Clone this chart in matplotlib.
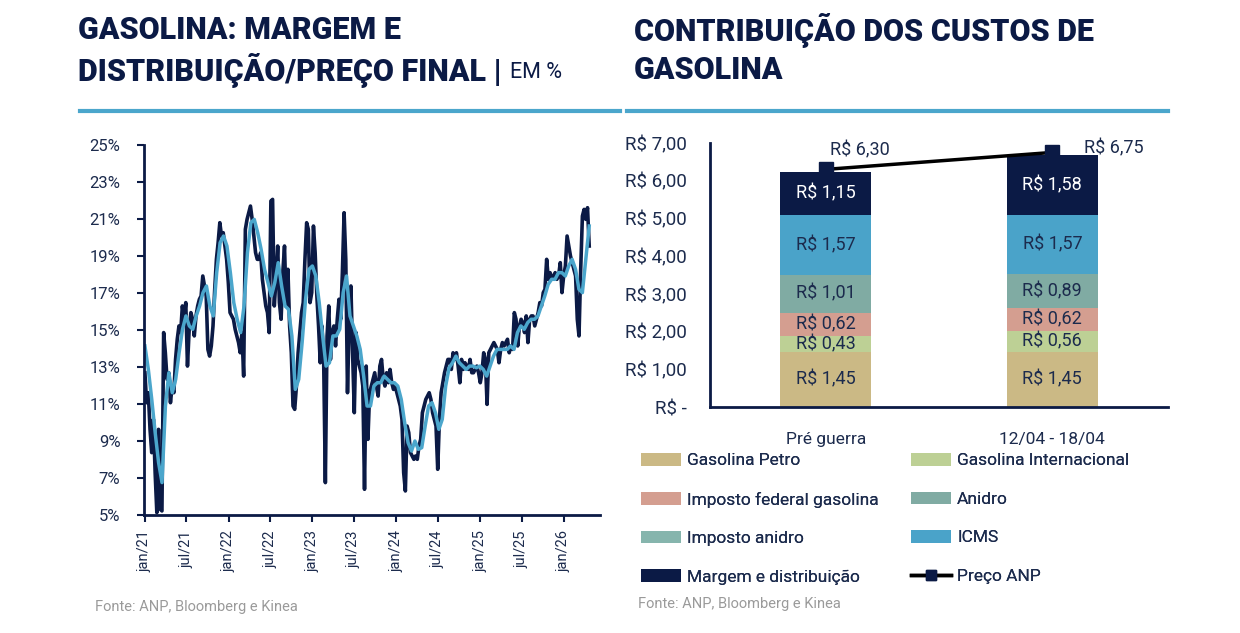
import numpy as np
import pandas as pd
import matplotlib
matplotlib.use("Agg")
import matplotlib.pyplot as plt
from matplotlib.patches import Patch
from matplotlib.lines import Line2D

plt.rcParams['font.family'] = ['Roboto', 'DejaVu Sans']

NAVY = '#0b1a45'
LIGHT = '#4ba6cc'
TXT = '#1c2b4d'

# ---- dados: margem e distribuição / preço final (semanal, %) ----
margem_semanal = [
    12.69, 11.07, 11.61, 9.63, 8.37, 10.17, 7.29, 5.13, 9.63, 5.31, 5.22, 14.86,
    13.77, 12.33, 12.69, 11.07, 11.97, 11.61, 13.41, 14.50, 15.22, 14.86, 16.30, 15.58,
    16.48, 13.05, 15.04, 15.94, 15.58, 14.68, 15.76, 16.30, 16.66, 16.84, 17.92, 17.38,
    16.84, 13.95, 13.59, 14.14, 15.22, 17.20, 18.82, 19.72, 20.80, 20.08, 20.26, 19.54,
    18.82, 17.56, 15.94, 15.76, 15.58, 15.04, 14.68, 14.32, 13.77, 14.86, 12.51, 20.44,
    20.98, 21.34, 21.70, 20.98, 20.08, 19.18, 18.82, 18.82, 19.18, 17.74, 17.02, 16.30,
    15.94, 14.86, 21.97, 22.06, 16.30, 17.74, 19.54, 16.48, 15.58, 18.10, 19.54, 16.30,
    18.28, 15.22, 13.77, 10.89, 10.71, 11.97, 13.77, 14.86, 15.94, 16.48, 18.82, 20.80,
    20.44, 16.48, 17.02, 20.62, 19.18, 16.84, 15.22, 13.23, 15.22, 13.41, 6.75, 14.68,
    16.30, 13.41, 14.86, 15.22, 14.14, 15.58, 16.66, 15.58, 18.10, 21.34, 18.82, 11.61,
    15.40, 17.38, 13.77, 10.53, 14.86, 13.41, 13.05, 12.69, 11.97, 6.39, 13.05, 9.09,
    11.61, 11.97, 12.33, 12.69, 11.97, 11.43, 13.05, 13.41, 12.33, 11.97, 12.69, 12.15,
    12.87, 12.15, 11.79, 11.97, 11.61, 11.25, 10.89, 10.17, 7.29, 6.30, 9.81, 9.45,
    8.37, 8.19, 8.01, 8.19, 8.01, 8.73, 9.09, 10.53, 10.89, 11.25, 11.43, 11.61,
    11.25, 10.53, 10.17, 9.81, 7.47, 10.17, 11.61, 12.15, 12.69, 13.05, 13.41, 13.41,
    12.87, 13.77, 13.41, 13.77, 13.05, 12.15, 13.41, 12.87, 13.23, 13.05, 12.87, 13.41,
    12.69, 12.69, 12.87, 13.05, 12.69, 12.15, 12.69, 13.77, 13.41, 10.98, 13.77, 13.95,
    14.14, 14.32, 14.14, 13.95, 13.23, 13.95, 14.32, 14.14, 14.32, 14.50, 13.77, 14.14,
    13.95, 15.94, 15.58, 14.14, 15.22, 15.58, 15.40, 14.86, 15.76, 14.32, 15.58, 15.76,
    15.76, 15.22, 15.58, 15.94, 16.48, 16.30, 17.02, 17.20, 18.82, 17.74, 18.10, 17.74,
    17.92, 18.10, 17.74, 17.92, 18.64, 17.02, 17.92, 18.46, 20.08, 19.54, 19.00, 18.64,
    18.28, 17.92, 15.58, 14.68, 18.28, 21.16, 21.52, 20.98, 21.61, 19.54,
]
margem_media = [
    14.14, 12.87, 11.25, 9.45, 7.83, 6.75, 10.89, 12.69, 11.61, 12.33, 13.77, 15.04,
    15.76, 15.22, 15.04, 15.76, 16.30, 17.02, 17.38, 16.30, 15.76, 18.10, 19.72, 20.08,
    19.54, 18.10, 16.48, 15.58, 14.86, 16.30, 19.18, 20.80, 20.98, 20.26, 19.36, 18.28,
    17.56, 16.84, 17.56, 18.64, 17.38, 16.30, 16.12, 14.68, 11.79, 12.33, 14.32, 16.66,
    18.28, 18.46, 17.92, 16.48, 14.68, 13.05, 13.23, 14.68, 14.68, 15.04, 17.02, 17.92,
    15.76, 15.22, 14.68, 13.95, 12.51, 10.89, 10.89, 11.97, 12.15, 12.15, 12.51, 12.33,
    12.15, 12.15, 11.97, 11.25, 9.99, 8.91, 8.46, 9.00, 8.55, 8.64, 9.81, 10.89,
    11.07, 10.53, 9.63, 10.17, 11.97, 12.96, 13.23, 13.59, 13.23, 13.05, 12.87, 13.05,
    13.05, 12.96, 13.05, 12.87, 12.51, 13.05, 13.59, 13.95, 13.95, 13.95, 13.95, 14.14,
    13.95, 14.86, 15.22, 15.04, 15.40, 15.58, 15.58, 15.76, 16.30, 16.84, 17.47, 17.74,
    17.74, 18.10, 18.10, 17.92, 18.46, 18.82, 18.28, 17.20, 17.02, 18.82, 20.62,
]
inicio, fim = '2021-01-01', '2026-04-21'
datas_semanal = pd.date_range(inicio, fim, periods=len(margem_semanal))
datas_media = pd.date_range(inicio, fim, periods=len(margem_media))

# ---- dados: contribuição dos custos (R$/l) ----
periodos = ['Pré guerra', '12/04 - 18/04']
componentes = ['Gasolina Petro', 'Gasolina Internacional', 'Imposto federal gasolina',
               'Anidro', 'Imposto anidro', 'ICMS', 'Margem e distribuição']
valores = {
    'Gasolina Petro': [1.45, 1.45],
    'Gasolina Internacional': [0.43, 0.56],
    'Imposto federal gasolina': [0.62, 0.62],
    'Anidro': [1.01, 0.89],
    'Imposto anidro': [0.0, 0.0],
    'ICMS': [1.57, 1.57],
    'Margem e distribuição': [1.15, 1.58],
}
preco_anp = [6.30, 6.75]
cores = {
    'Gasolina Petro': '#cbb985',
    'Gasolina Internacional': '#bdd095',
    'Imposto federal gasolina': '#d49e90',
    'Anidro': '#80aba3',
    'Imposto anidro': '#86b5ad',
    'ICMS': '#4aa3c9',
    'Margem e distribuição': NAVY,
}

fig = plt.figure(figsize=(12.4, 6.33), dpi=100)

# títulos
TSIZE = 22
fig.text(78/1240, 1-30/633, 'GASOLINA: MARGEM E', fontsize=TSIZE, fontweight='heavy',
         color=NAVY, va='center')
t2 = fig.text(78/1240, 1-70/633, 'DISTRIBUIÇÃO/PREÇO FINAL |', fontsize=TSIZE,
              fontweight='heavy', color=NAVY, va='center')
fig.canvas.draw()
fim_t2 = t2.get_window_extent().x1
fig.text((fim_t2 + 9)/1240, 1-72/633, 'EM %', fontsize=15.5, color=NAVY, va='center')
fig.text(634/1240, 1-30/633, 'CONTRIBUIÇÃO DOS CUSTOS DE', fontsize=TSIZE,
         fontweight='heavy', color=NAVY, va='center')
fig.text(634/1240, 1-70/633, 'GASOLINA', fontsize=TSIZE, fontweight='heavy',
         color=NAVY, va='center')
fig.add_artist(Line2D([80/1240, 620/1240], [1-111/633]*2, color=LIGHT, lw=3))
fig.add_artist(Line2D([627/1240, 1168/1240], [1-111/633]*2, color=LIGHT, lw=3))

# ---- gráfico da esquerda ----
ax1 = fig.add_axes([144/1240, 1-515/633, 456/1240, 370/633])
ax1.plot(datas_semanal, margem_semanal, color=NAVY, lw=2.6, solid_joinstyle='round')
ax1.plot(datas_media, margem_media, color=LIGHT, lw=2.5, solid_joinstyle='round')
ax1.set_ylim(5, 25)
ax1.set_yticks(range(5, 26, 2))
ax1.set_yticklabels([f'{v}%' for v in range(5, 26, 2)])
ax1.set_xlim(pd.Timestamp('2020-12-28'), pd.Timestamp('2026-06-07'))
ticks = pd.date_range('2021-01-01', '2026-01-01', freq='6MS')
ax1.set_xticks(ticks)
ax1.set_xticklabels([('jan' if d.month == 1 else 'jul') + d.strftime('/%y') for d in ticks],
                    rotation=90)
for s in ['top', 'right']:
    ax1.spines[s].set_visible(False)
for s in ['left', 'bottom']:
    ax1.spines[s].set_color(NAVY)
    ax1.spines[s].set_linewidth(2)
ax1.tick_params(axis='y', colors=NAVY, labelcolor=TXT, labelsize=12, length=5, width=1.5, pad=12)
ax1.tick_params(axis='x', colors=NAVY, labelcolor=TXT, labelsize=10.5, length=5, width=1.5, pad=6)

fig.text(95/1240, 1-607/633, 'Fonte: ANP, Bloomberg e Kinea', fontsize=10.5,
         color='#9a9a9a', va='center')

# ---- gráfico da direita ----
ax2 = fig.add_axes([710/1240, 1-407/633, 458/1240, 264/633])
x = np.arange(len(periodos))
base = np.zeros(len(periodos))
for comp in componentes:
    v = np.array(valores[comp])
    ax2.bar(x, v, 0.40, bottom=base, color=cores[comp], edgecolor='none')
    for xi, b, vi in zip(x, base, v):
        if vi > 0:
            cor_txt = 'white' if comp == 'Margem e distribuição' else TXT
            ax2.text(xi, b + vi/2, f'R$ {vi:.2f}'.replace('.', ','), ha='center',
                     va='center', fontsize=13, color=cor_txt)
    base += v

ax2.plot(x, preco_anp, color='black', lw=2.5, marker='s', markersize=10,
         markerfacecolor=NAVY, markeredgecolor=NAVY, zorder=5)
ax2.annotate(f'R$ {preco_anp[0]:.2f}'.replace('.', ','), (x[0], preco_anp[0]),
             xytext=(4, 19), textcoords='offset pixels', ha='left', va='center',
             fontsize=13, color=TXT)
ax2.annotate(f'R$ {preco_anp[1]:.2f}'.replace('.', ','), (x[1], preco_anp[1]),
             xytext=(32, 4), textcoords='offset pixels', ha='left', va='center',
             fontsize=13, color=TXT)

ax2.set_xlim(-0.51, 1.51)
ax2.set_ylim(0, 7)
yt = np.arange(0, 7.01, 1)
ax2.set_yticks(yt)
ax2.set_yticklabels(['R$ -' if v == 0 else f'R$ {v:.2f}'.replace('.', ',') for v in yt])
ax2.set_xticks(x)
ax2.set_xticklabels(periodos)
for s in ['top', 'right']:
    ax2.spines[s].set_visible(False)
for s in ['left', 'bottom']:
    ax2.spines[s].set_color(NAVY)
    ax2.spines[s].set_linewidth(2)
ax2.tick_params(axis='y', length=0, labelcolor=TXT, labelsize=13.5, pad=17)
ax2.tick_params(axis='x', length=0, labelcolor=TXT, labelsize=12.5, pad=18)

# legenda em duas colunas
def h(comp):
    return Patch(facecolor=cores[comp], edgecolor='none')

col1 = [(h('Gasolina Petro'), 'Gasolina Petro'),
        (h('Imposto federal gasolina'), 'Imposto federal gasolina'),
        (h('Imposto anidro'), 'Imposto anidro'),
        (h('Margem e distribuição'), 'Margem e distribuição')]
col2 = [(h('Gasolina Internacional'), 'Gasolina Internacional'),
        (h('Anidro'), 'Anidro'),
        (h('ICMS'), 'ICMS'),
        (Line2D([], [], color='black', lw=2.5, marker='s', markersize=7,
                markerfacecolor=NAVY, markeredgecolor=NAVY), 'Preço ANP')]
for col, x0 in [(col1, 641), (col2, 911)]:
    leg = fig.legend([c[0] for c in col], [c[1] for c in col], loc='upper left',
                     bbox_to_anchor=(x0/1240, 1-453/633), frameon=False,
                     fontsize=12.5, labelspacing=1.33, handlelength=2.3,
                     handleheight=0.75, handletextpad=0.35, borderpad=0,
                     borderaxespad=0, labelcolor=TXT)
    fig.add_artist(leg)

fig.text(638/1240, 1-604/633, 'Fonte: ANP, Bloomberg e Kinea', fontsize=10.5,
         color='#9a9a9a', va='center')

fig.savefig('out.png', dpi=100)
